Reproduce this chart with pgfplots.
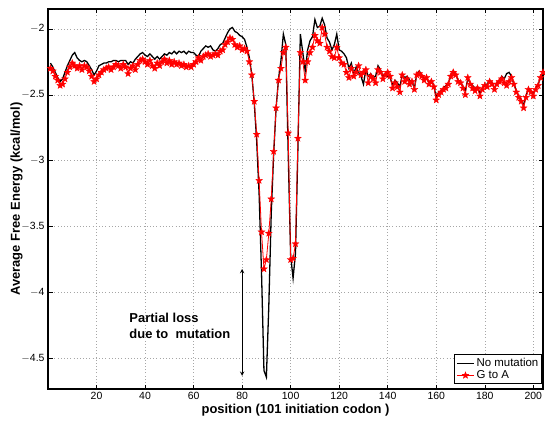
\documentclass[border=0pt]{standalone}
\usepackage{pgfplots}
\pgfplotsset{compat=1.18}
\usepackage{pgfplotstable}
\usepackage{fontspec}
\setmainfont{Liberation Sans}
\pgfdeclareplotmark{pstar}{%
  \pgfpathmoveto{\pgfpointpolar{90}{\pgfplotmarksize}}%
  \pgfpathlineto{\pgfpointpolar{126}{0.42\pgfplotmarksize}}%
  \pgfpathlineto{\pgfpointpolar{162}{\pgfplotmarksize}}%
  \pgfpathlineto{\pgfpointpolar{198}{0.42\pgfplotmarksize}}%
  \pgfpathlineto{\pgfpointpolar{234}{\pgfplotmarksize}}%
  \pgfpathlineto{\pgfpointpolar{270}{0.42\pgfplotmarksize}}%
  \pgfpathlineto{\pgfpointpolar{306}{\pgfplotmarksize}}%
  \pgfpathlineto{\pgfpointpolar{342}{0.42\pgfplotmarksize}}%
  \pgfpathlineto{\pgfpointpolar{18}{\pgfplotmarksize}}%
  \pgfpathlineto{\pgfpointpolar{54}{0.42\pgfplotmarksize}}%
  \pgfpathclose
  \pgfusepathqfillstroke}

\pgfplotstableread{
x y
1 -2.26
2 -2.29
3 -2.33
4 -2.37
5 -2.40
6 -2.38
7 -2.33
8 -2.28
9 -2.24
10 -2.20
11 -2.18
12 -2.22
13 -2.24
14 -2.25
15 -2.24
16 -2.25
17 -2.28
18 -2.31
19 -2.35
20 -2.32
21 -2.28
22 -2.27
23 -2.26
24 -2.26
25 -2.25
26 -2.25
27 -2.24
28 -2.24
29 -2.25
30 -2.24
31 -2.24
32 -2.24
33 -2.27
34 -2.25
35 -2.26
36 -2.23
37 -2.21
38 -2.19
39 -2.18
40 -2.20
41 -2.21
42 -2.19
43 -2.21
44 -2.23
45 -2.21
46 -2.23
47 -2.21
48 -2.19
49 -2.20
50 -2.18
51 -2.19
52 -2.17
53 -2.19
54 -2.17
55 -2.18
56 -2.17
57 -2.19
58 -2.17
59 -2.18
60 -2.18
61 -2.20
62 -2.21
63 -2.17
64 -2.15
65 -2.13
66 -2.14
67 -2.13
68 -2.16
69 -2.17
70 -2.15
71 -2.12
72 -2.11
73 -2.07
74 -2.03
75 -2.00
76 -1.99
77 -2.02
78 -2.03
79 -2.05
80 -2.06
81 -2.08
82 -2.14
83 -2.22
84 -2.35
85 -2.56
86 -2.85
87 -3.25
88 -3.85
89 -4.59
90 -4.64
91 -4.10
92 -3.40
93 -2.95
94 -2.60
95 -2.38
96 -2.24
97 -2.04
98 -2.12
99 -2.95
100 -3.72
101 -3.89
102 -3.70
103 -2.90
104 -2.04
105 -2.18
106 -2.32
107 -2.16
108 -2.09
109 -2.06
110 -1.93
111 -1.99
112 -1.98
113 -1.92
114 -1.97
115 -2.07
116 -2.10
117 -2.16
118 -2.12
119 -2.04
120 -2.16
121 -2.17
122 -2.19
123 -2.22
124 -2.30
125 -2.26
126 -2.34
127 -2.29
128 -2.33
129 -2.36
130 -2.42
131 -2.31
132 -2.36
133 -2.34
134 -2.37
135 -2.36
136 -2.28
137 -2.31
138 -2.36
139 -2.34
140 -2.36
141 -2.37
142 -2.43
143 -2.39
144 -2.41
145 -2.44
146 -2.35
147 -2.37
148 -2.36
149 -2.39
150 -2.40
151 -2.45
152 -2.34
153 -2.32
154 -2.35
155 -2.38
156 -2.37
157 -2.41
158 -2.39
159 -2.43
160 -2.52
161 -2.48
162 -2.47
163 -2.45
164 -2.43
165 -2.41
166 -2.36
167 -2.32
168 -2.34
169 -2.39
170 -2.40
171 -2.44
172 -2.47
173 -2.38
174 -2.41
175 -2.43
176 -2.45
177 -2.44
178 -2.49
179 -2.45
180 -2.42
181 -2.42
182 -2.39
183 -2.41
184 -2.45
185 -2.41
186 -2.39
187 -2.36
188 -2.38
189 -2.34
190 -2.33
191 -2.36
192 -2.42
193 -2.47
194 -2.51
195 -2.54
196 -2.58
197 -2.51
198 -2.45
199 -2.47
200 -2.49
201 -2.45
202 -2.42
203 -2.37
204 -2.33
}\nomut

\pgfplotstableread{
x y
1 -2.30
2 -2.32
3 -2.36
4 -2.39
5 -2.43
6 -2.42
7 -2.38
8 -2.33
9 -2.29
10 -2.26
11 -2.28
12 -2.30
13 -2.28
14 -2.31
15 -2.28
16 -2.29
17 -2.32
18 -2.36
19 -2.40
20 -2.38
21 -2.35
22 -2.33
23 -2.31
24 -2.30
25 -2.29
26 -2.31
27 -2.29
28 -2.27
29 -2.28
30 -2.30
31 -2.27
32 -2.29
33 -2.34
34 -2.30
35 -2.28
36 -2.31
37 -2.27
38 -2.24
39 -2.23
40 -2.25
41 -2.27
42 -2.24
43 -2.28
44 -2.30
45 -2.26
46 -2.28
47 -2.25
48 -2.23
49 -2.26
50 -2.24
51 -2.27
52 -2.25
53 -2.27
54 -2.26
55 -2.28
56 -2.27
57 -2.29
58 -2.28
59 -2.29
60 -2.27
61 -2.25
62 -2.22
63 -2.24
64 -2.21
65 -2.20
66 -2.19
67 -2.21
68 -2.20
69 -2.19
70 -2.20
71 -2.17
72 -2.16
73 -2.12
74 -2.10
75 -2.07
76 -2.08
77 -2.12
78 -2.14
79 -2.13
80 -2.16
81 -2.15
82 -2.17
83 -2.25
84 -2.35
85 -2.55
86 -2.80
87 -3.15
88 -3.54
89 -3.82
90 -3.75
91 -3.55
92 -3.29
93 -2.93
94 -2.60
95 -2.39
96 -2.30
97 -2.18
98 -2.14
99 -2.79
100 -3.75
101 -3.74
102 -3.63
103 -2.83
104 -2.18
105 -2.25
106 -2.39
107 -2.25
108 -2.18
109 -2.14
110 -2.05
111 -2.09
112 -2.11
113 -1.99
114 -2.04
115 -2.14
116 -2.17
117 -2.21
118 -2.22
119 -2.14
120 -2.22
121 -2.26
122 -2.27
123 -2.33
124 -2.37
125 -2.30
126 -2.36
127 -2.33
128 -2.28
129 -2.35
130 -2.33
131 -2.31
132 -2.41
133 -2.36
134 -2.38
135 -2.41
136 -2.31
137 -2.33
138 -2.38
139 -2.35
140 -2.33
141 -2.36
142 -2.45
143 -2.41
144 -2.44
145 -2.48
146 -2.35
147 -2.40
148 -2.38
149 -2.42
150 -2.40
151 -2.46
152 -2.35
153 -2.34
154 -2.36
155 -2.39
156 -2.37
157 -2.42
158 -2.40
159 -2.44
160 -2.54
161 -2.50
162 -2.48
163 -2.46
164 -2.45
165 -2.42
166 -2.36
167 -2.33
168 -2.35
169 -2.40
170 -2.41
171 -2.45
172 -2.50
173 -2.37
174 -2.42
175 -2.45
176 -2.47
177 -2.45
178 -2.51
179 -2.46
180 -2.43
181 -2.44
182 -2.40
183 -2.42
184 -2.46
185 -2.42
186 -2.40
187 -2.38
188 -2.41
189 -2.43
190 -2.40
191 -2.37
192 -2.42
193 -2.48
194 -2.52
195 -2.55
196 -2.60
197 -2.52
198 -2.46
199 -2.48
200 -2.51
201 -2.46
202 -2.43
203 -2.37
204 -2.33
}\gtoa

\begin{document}
\begin{tikzpicture}
\useasboundingbox (-48bp,-40bp) rectangle (497bp,389bp);
\begin{axis}[
  scale only axis,
  width=495bp, height=380bp,
  xmin=0, xmax=204,
  ymin=-4.73, ymax=-1.85,
  xtick={20,40,...,200},
  ytick={-4.5,-4,-3.5,-3,-2.5,-2},
  yticklabels={$-$4.5,$-$4,$-$3.5,$-$3,$-$2.5,$-$2},
  tick align=inside,
  major tick length=4.5bp,
  tick style={black, line width=0.5pt},
  axis line style={line width=1.1pt},
  grid=major,
  major grid style={gray!70, line width=0.5pt, dash pattern=on 0.6pt off 2.6pt},
  /pgf/number format/assume math mode=true,
  ticklabel style={font=\fontsize{10.5}{12}\selectfont},
  xlabel={\textbf{position (101 initiation codon )}},
  ylabel={\textbf{Average Free Energy (kcal/mol)}},
  label style={font=\fontsize{13}{15}\selectfont},
  xlabel style={yshift=3bp},
  ylabel style={yshift=-8bp},
  legend style={at={(rel axis cs:0.9985,0.013)}, anchor=south east,
    draw=black, line width=0.9pt, font=\fontsize{11.5}{12}\selectfont,
    inner sep=1.5pt, row sep=-1.5pt, legend cell align=left},
  legend image post style={line width=1.2pt},
]
\addplot[black, line width=1.3pt] table[x=x,y=y] {\nomut};
\addlegendentry{No mutation}
\addplot[red, line width=0.8pt, mark=pstar, mark size=3.6pt,
  mark options={fill=red, draw=red, line width=0.3pt}] table[x=x,y=y] {\gtoa};
\addlegendentry{G to A}
\draw[<->, >=stealth, line width=0.9pt] (axis cs:80,-3.82) -- (axis cs:80,-4.63);
\node[anchor=west, align=left, font=\fontsize{13}{16}\selectfont\bfseries, inner sep=0pt]
  at (axis cs:33.5,-4.25) {Partial loss\\due to~~mutation};
\end{axis}
\end{tikzpicture}
\end{document}
